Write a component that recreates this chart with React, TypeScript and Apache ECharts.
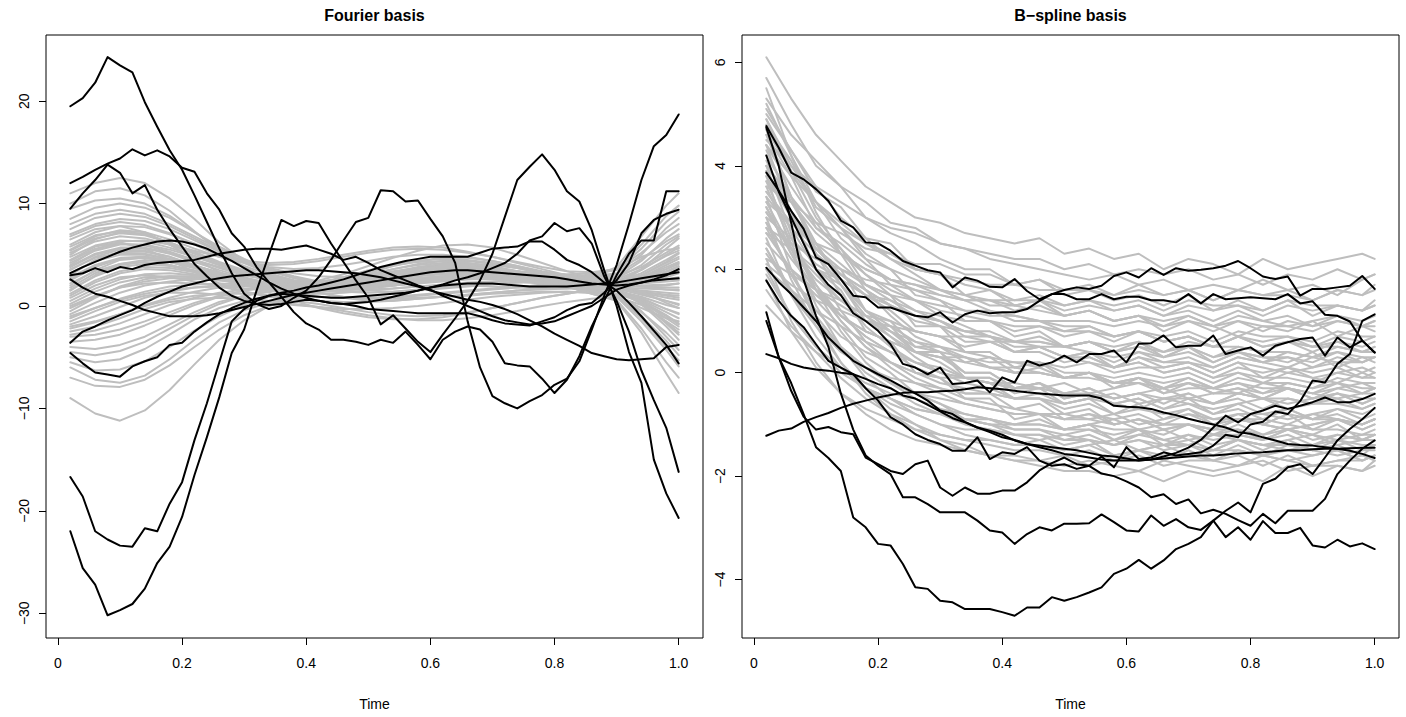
import React, { useEffect, useRef } from "react";
import * as echarts from "echarts";

// ---------- time grids ----------
const timeFine = [0.02,0.04,0.06,0.08,0.1,0.12,0.14,0.16,0.18,0.2,0.22,0.24,0.26,0.28,0.3,0.32,0.34,0.36,0.38,0.4,0.42,0.44,0.46,0.48,0.5,0.52,0.54,0.56,0.58,0.6,0.62,0.64,0.66,0.68,0.7,0.72,0.74,0.76,0.78,0.8,0.82,0.84,0.86,0.88,0.9,0.92,0.94,0.96,0.98,1];
const timeCoarse = [0.02,0.06,0.1,0.14,0.18,0.22,0.26,0.3,0.34,0.38,0.42,0.46,0.5,0.54,0.58,0.62,0.66,0.7,0.74,0.78,0.82,0.86,0.9,0.94,0.98,1];

// ---------- tick values / labels ----------
const xTicks = [0, 0.2, 0.4, 0.6, 0.8, 1.0];
const xTickLabels = ["0", "0.2", "0.4", "0.6", "0.8", "1.0"];
const fourierYTicks = [-30, -20, -10, 0, 10, 20];
const bsplineYTicks = [-4, -2, 0, 2, 4, 6];
const panelTitles = ["Fourier basis", "B\u2212spline basis"];
const xAxisTitle = "Time";

// ---------- Fourier basis: grey curves (timeCoarse) ----------
const fourierGrey = [
  [11.0,12.0,12.5,12.0,10.5,8.5,6.2,4.4,3.0,2.0,1.3,0.8,0.5,0.5,0.7,0.9,1.1,1.3,1.5,1.8,2.2,2.8,3.8,6.8,9.8,11.0],
  [10.0,11.2,11.5,10.8,9.3,7.3,5.4,3.8,2.7,1.9,1.3,0.9,0.7,0.8,1.0,1.2,1.4,1.6,1.8,2.1,2.5,3.0,3.6,6.0,8.8,9.8],
  [9.5,10.3,10.5,10.0,8.8,7.2,5.6,4.2,3.2,2.5,2.0,1.7,1.6,1.7,1.9,2.1,2.3,2.4,2.5,2.6,2.8,3.1,3.5,5.6,8.2,9.2],
  [8.5,9.6,10.0,9.6,8.6,7.2,5.8,4.6,3.6,2.9,2.4,2.1,2.0,2.1,2.3,2.5,2.7,2.8,2.8,2.8,2.8,2.9,3.2,5.0,7.6,8.6],
  [8.0,9.0,9.4,9.0,8.0,6.8,5.6,4.5,3.7,3.2,2.9,2.8,2.9,3.1,3.4,3.6,3.7,3.6,3.4,3.2,3.1,3.2,3.6,5.2,7.2,8.0],
  [7.5,8.6,9.0,8.7,7.8,6.6,5.4,4.3,3.4,2.7,2.3,2.1,2.1,2.3,2.6,2.9,3.1,3.2,3.1,2.9,2.7,2.6,2.8,4.4,6.6,7.5],
  [7.0,8.0,8.5,8.3,7.5,6.4,5.3,4.3,3.5,2.8,2.2,1.8,1.5,1.4,1.5,1.7,1.9,2.1,2.3,2.5,2.6,2.8,3.1,4.6,6.3,7.0],
  [6.8,7.8,8.2,7.9,7.1,6.0,4.9,3.9,3.1,2.5,2.1,1.9,1.9,2.0,2.2,2.4,2.6,2.7,2.7,2.6,2.5,2.5,2.7,4.0,6.0,6.8],
  [6.5,7.5,7.8,7.2,6.0,4.6,3.3,2.2,1.3,0.5,-0.2,-0.7,-1.1,-1.3,-1.3,-1.1,-0.7,-0.2,0.3,0.8,1.2,1.6,2.0,3.6,5.6,6.6],
  [6.0,7.2,7.8,7.7,7.0,6.1,5.1,4.3,3.8,3.6,3.7,4.0,4.4,4.8,5.0,5.0,4.8,4.4,3.9,3.4,3.0,2.8,2.9,3.8,5.2,5.9],
  [5.8,6.9,7.3,7.0,6.2,5.2,4.2,3.3,2.6,2.1,1.8,1.7,1.8,2.0,2.3,2.6,2.8,2.9,2.9,2.8,2.6,2.4,2.4,3.5,5.0,5.7],
  [5.5,6.8,7.4,7.2,6.5,5.6,4.8,4.2,4.0,4.1,4.4,4.8,5.2,5.5,5.6,5.5,5.2,4.8,4.3,3.8,3.4,3.3,3.6,4.8,5.5,5.6],
  [5.4,6.6,7.1,6.9,6.2,5.3,4.3,3.5,2.9,2.5,2.3,2.3,2.5,2.8,3.1,3.3,3.4,3.3,3.1,2.8,2.6,2.5,2.6,3.6,4.9,5.4],
  [5.2,6.3,6.8,6.6,6.0,5.1,4.2,3.4,2.8,2.4,2.2,2.2,2.4,2.7,3.0,3.2,3.3,3.2,3.0,2.8,2.6,2.4,2.4,3.2,4.5,5.2],
  [5.0,6.5,7.2,7.0,6.2,5.2,4.2,3.3,2.6,2.2,2.2,2.5,3.0,3.6,4.1,4.4,4.4,4.1,3.7,3.2,2.8,2.5,2.4,3.0,4.3,5.1],
  [4.8,5.9,6.4,6.3,5.7,4.9,4.0,3.2,2.5,2.0,1.6,1.4,1.3,1.4,1.6,1.8,2.0,2.2,2.3,2.3,2.3,2.2,2.2,3.0,4.2,4.8],
  [4.5,5.8,6.2,5.6,4.5,3.3,2.2,1.4,0.9,0.5,0.2,-0.2,-0.6,-0.9,-1.0,-0.9,-0.6,-0.2,0.3,0.8,1.2,1.6,1.9,2.8,4.0,4.6],
  [4.4,5.6,6.1,5.9,5.3,4.5,3.7,3.0,2.5,2.2,2.1,2.2,2.5,2.9,3.3,3.6,3.7,3.6,3.4,3.1,2.8,2.5,2.3,2.8,3.8,4.3],
  [4.2,5.4,6.0,6.0,5.5,4.8,4.0,3.3,2.8,2.5,2.4,2.5,2.8,3.1,3.4,3.6,3.6,3.5,3.3,3.0,2.7,2.5,2.3,2.7,3.6,4.2],
  [4.0,5.5,6.3,6.4,6.0,5.4,4.8,4.4,4.2,4.3,4.6,5.0,5.4,5.7,5.8,5.7,5.3,4.8,4.2,3.6,3.0,2.6,2.4,2.8,3.6,4.1],
  [3.9,5.1,5.7,5.7,5.2,4.5,3.8,3.1,2.6,2.3,2.2,2.3,2.6,2.9,3.2,3.4,3.5,3.4,3.2,2.9,2.6,2.4,2.2,2.7,3.4,3.9],
  [3.8,5.0,5.6,5.6,5.1,4.3,3.5,2.8,2.2,1.8,1.6,1.6,1.8,2.1,2.4,2.6,2.7,2.7,2.6,2.5,2.4,2.3,2.2,2.6,3.3,3.8],
  [3.6,4.7,5.2,5.1,4.6,3.9,3.2,2.6,2.1,1.8,1.7,1.8,2.0,2.3,2.6,2.8,2.9,2.9,2.8,2.6,2.4,2.2,2.0,2.4,3.1,3.5],
  [3.5,4.8,5.5,5.4,4.8,3.9,3.0,2.2,1.6,1.3,1.2,1.3,1.5,1.7,1.9,2.0,2.0,1.9,1.8,1.7,1.7,1.8,2.0,2.6,3.2,3.5],
  [3.2,4.4,5.0,5.0,4.6,3.9,3.2,2.6,2.1,1.9,1.8,2.0,2.3,2.7,3.0,3.2,3.3,3.2,3.0,2.8,2.5,2.3,2.1,2.3,2.8,3.2],
  [3.0,4.5,5.3,5.3,4.8,4.0,3.2,2.5,2.0,1.8,1.9,2.3,2.8,3.2,3.5,3.6,3.5,3.3,3.0,2.7,2.4,2.2,2.1,2.4,3.0,3.3],
  [2.8,4.0,4.7,4.8,4.5,3.9,3.3,2.7,2.3,2.0,1.9,1.9,2.0,2.2,2.4,2.5,2.6,2.6,2.5,2.4,2.3,2.2,2.1,2.3,2.6,2.8],
  [2.6,3.9,4.6,4.7,4.3,3.7,3.0,2.4,2.0,1.8,1.9,2.2,2.7,3.2,3.7,4.0,4.1,4.0,3.7,3.2,2.8,2.4,2.1,2.2,2.4,2.5],
  [2.5,3.8,4.6,4.8,4.5,3.9,3.2,2.6,2.2,2.1,2.3,2.8,3.4,4.0,4.4,4.6,4.5,4.2,3.8,3.3,2.9,2.6,2.4,2.5,2.6,2.6],
  [2.2,3.4,4.1,4.3,4.0,3.5,2.9,2.4,2.0,1.8,1.8,2.0,2.3,2.6,2.9,3.1,3.2,3.1,2.9,2.6,2.3,2.1,1.9,2.0,2.1,2.2],
  [2.0,3.5,4.5,4.7,4.3,3.7,3.0,2.4,2.0,1.9,2.1,2.6,3.2,3.9,4.4,4.7,4.7,4.4,3.9,3.3,2.7,2.3,2.0,1.9,2.0,2.2],
  [1.8,3.2,4.1,4.5,4.3,3.8,3.2,2.6,2.1,1.7,1.5,1.5,1.7,2.0,2.3,2.6,2.8,2.9,2.9,2.8,2.6,2.3,2.0,1.9,1.8,1.8],
  [1.6,2.9,3.8,4.1,3.9,3.4,2.8,2.2,1.8,1.5,1.4,1.5,1.7,2.0,2.3,2.6,2.8,2.9,2.8,2.6,2.3,2.0,1.8,1.7,1.6,1.6],
  [1.5,3.0,4.0,4.3,4.0,3.4,2.7,2.0,1.5,1.1,0.9,0.8,0.8,0.9,1.1,1.3,1.5,1.7,1.9,2.0,2.1,2.1,2.1,1.9,1.6,1.5],
  [1.2,2.5,3.4,3.8,3.7,3.3,2.8,2.3,1.9,1.6,1.5,1.6,1.8,2.1,2.4,2.6,2.7,2.7,2.5,2.3,2.1,1.9,1.7,1.5,1.3,1.2],
  [1.0,2.3,3.2,3.6,3.5,3.1,2.6,2.1,1.7,1.5,1.5,1.7,2.0,2.4,2.7,2.9,3.0,2.9,2.7,2.4,2.1,1.9,1.7,1.4,1.1,1.0],
  [0.8,2.0,2.8,3.0,2.8,2.4,1.9,1.4,1.0,0.7,0.5,0.4,0.4,0.5,0.7,0.9,1.1,1.3,1.5,1.6,1.7,1.8,1.8,1.4,1.0,0.8],
  [0.5,1.7,2.6,3.1,3.2,3.0,2.6,2.2,1.9,1.7,1.7,1.9,2.3,2.7,3.1,3.4,3.5,3.4,3.1,2.7,2.3,2.0,1.7,1.3,0.8,0.6],
  [0.2,1.4,2.3,2.8,2.9,2.8,2.5,2.2,1.9,1.8,1.8,2.0,2.4,2.9,3.3,3.6,3.7,3.6,3.3,2.9,2.4,2.0,1.7,1.1,0.5,0.2],
  [0.0,1.0,1.8,2.2,2.3,2.2,2.0,1.7,1.5,1.4,1.5,1.8,2.3,2.9,3.4,3.8,3.9,3.8,3.4,2.9,2.4,2.0,1.7,1.2,0.5,0.1],
  [-0.2,0.9,1.8,2.4,2.7,2.7,2.5,2.2,1.9,1.7,1.6,1.7,1.9,2.2,2.5,2.7,2.8,2.7,2.5,2.2,1.9,1.7,1.5,0.9,0.1,-0.2],
  [-0.5,0.8,1.9,2.6,2.9,2.9,2.7,2.4,2.2,2.2,2.5,3.1,3.9,4.7,5.4,5.9,6.0,5.7,5.0,4.2,3.4,2.7,2.2,1.4,0.3,-0.2],
  [-0.8,0.3,1.3,2.0,2.4,2.6,2.6,2.4,2.2,2.1,2.1,2.3,2.6,3.0,3.4,3.7,3.8,3.7,3.3,2.8,2.3,1.9,1.6,0.7,-0.3,-0.7],
  [-1.0,-0.2,0.6,1.2,1.6,1.8,1.9,1.9,1.9,2.0,2.2,2.6,3.1,3.6,4.0,4.2,4.2,3.9,3.4,2.8,2.2,1.8,1.5,0.8,-0.3,-0.8],
  [-1.2,-0.2,0.7,1.4,1.9,2.1,2.2,2.1,2.0,1.9,1.9,2.0,2.2,2.4,2.6,2.7,2.7,2.6,2.4,2.2,2.0,1.8,1.6,0.6,-0.6,-1.2],
  [-1.5,-0.5,0.4,1.0,1.3,1.3,1.1,0.8,0.4,0.1,-0.1,-0.3,-0.3,-0.2,0.0,0.3,0.6,0.9,1.1,1.3,1.4,1.3,1.0,-0.2,-1.2,-1.5],
  [-1.8,-1.0,-0.1,0.8,1.4,1.8,2.0,2.0,1.9,1.8,1.8,1.9,2.1,2.3,2.5,2.7,2.8,2.8,2.6,2.3,2.0,1.8,1.6,0.5,-0.9,-1.7],
  [-2.0,-1.5,-0.8,0.0,0.6,1.0,1.2,1.2,1.1,1.0,0.9,0.8,0.7,0.7,0.8,0.9,1.0,1.2,1.3,1.4,1.4,1.3,1.2,0.4,-1.0,-1.8],
  [-2.2,-1.6,-0.8,0.1,0.8,1.4,1.8,2.0,2.1,2.1,2.1,2.2,2.3,2.5,2.7,2.8,2.8,2.7,2.5,2.2,1.9,1.7,1.5,0.4,-1.2,-2.0],
  [-2.5,-2.0,-1.2,-0.3,0.4,0.7,0.8,0.7,0.5,0.2,-0.1,-0.5,-0.9,-1.2,-1.4,-1.4,-1.2,-0.9,-0.5,0.0,0.4,0.7,0.9,0.1,-1.5,-2.3],
  [-2.8,-2.4,-1.7,-0.8,0.1,0.8,1.3,1.6,1.8,1.9,2.0,2.1,2.3,2.5,2.7,2.9,3.0,2.9,2.7,2.4,2.1,1.8,1.5,0.3,-1.6,-2.6],
  [-3.0,-2.8,-2.3,-1.5,-0.6,0.3,1.0,1.5,1.9,2.2,2.4,2.6,2.8,3.0,3.2,3.3,3.3,3.1,2.8,2.5,2.2,1.9,1.6,0.4,-1.7,-2.8],
  [-3.5,-3.3,-2.8,-1.9,-0.9,0.1,0.9,1.5,1.9,2.2,2.4,2.6,2.8,3.0,3.1,3.2,3.2,3.0,2.7,2.4,2.1,1.8,1.5,0.2,-2.0,-3.3],
  [-4.0,-4.2,-3.8,-3.0,-1.8,-0.6,0.4,1.0,1.4,1.7,2.0,2.3,2.6,2.9,3.1,3.2,3.1,2.9,2.6,2.2,1.8,1.4,1.0,-0.6,-2.6,-3.8],
  [-4.5,-4.8,-4.4,-3.5,-2.2,-0.9,0.2,1.0,1.6,2.0,2.3,2.6,2.9,3.1,3.3,3.4,3.3,3.1,2.8,2.4,2.0,1.6,1.2,-0.5,-3.0,-4.3],
  [-5.0,-5.5,-5.2,-4.2,-2.8,-1.3,-0.2,0.5,0.9,1.2,1.5,1.9,2.3,2.7,3.0,3.2,3.2,3.0,2.7,2.3,1.9,1.5,1.1,-1.0,-3.4,-4.8],
  [-5.5,-6.3,-6.2,-5.4,-4.0,-2.4,-1.0,0.1,0.9,1.5,2.0,2.5,3.0,3.4,3.7,3.8,3.7,3.4,3.0,2.5,2.0,1.5,1.0,-1.2,-4.0,-5.3],
  [-6.0,-7.2,-7.5,-6.8,-5.2,-3.3,-1.6,-0.4,0.3,0.9,1.5,2.1,2.7,3.3,3.8,4.1,4.1,3.8,3.3,2.7,2.1,1.5,0.9,-1.5,-4.3,-5.9],
  [-7.0,-7.8,-7.9,-7.2,-5.8,-4.0,-2.3,-0.9,0.0,0.7,1.3,1.9,2.5,3.1,3.6,3.9,3.9,3.6,3.1,2.5,1.9,1.2,0.6,-2.2,-5.5,-7.0],
  [-9.0,-10.5,-11.2,-10.2,-8.2,-5.7,-3.3,-1.4,0.0,1.1,2.0,2.8,3.5,4.0,4.3,4.4,4.2,3.8,3.2,2.6,1.9,1.2,0.5,-2.6,-6.6,-8.5],
];

// ---------- Fourier basis: highlighted black curves (timeFine) ----------
const fourierBlack = [
  [19.5,20.3,21.8,24.3,23.5,22.8,19.9,17.5,15.2,13.3,10.8,8.2,5.6,3.2,1.2,0.2,-0.3,0.0,0.8,1.5,2.8,4.5,6.4,8.2,8.6,11.3,11.2,10.2,10.3,8.5,6.8,4.2,-1.5,-6.0,-8.8,-9.5,-10.0,-9.3,-8.7,-7.7,-7.1,-5.4,-2.3,1.0,4.0,8.0,12.3,15.6,16.7,18.7],
  [12.0,12.6,13.3,13.9,14.4,15.3,14.7,15.2,14.6,13.5,13.1,11.0,9.4,7.1,5.8,3.8,2.3,0.9,-0.6,-1.7,-2.3,-3.3,-3.3,-3.5,-3.8,-3.3,-3.6,-2.5,-3.8,-5.2,-3.3,-2.5,-2.0,-2.3,-3.5,-5.6,-5.8,-5.9,-7.1,-8.5,-7.2,-4.9,-2.0,0.5,3.0,5.1,6.4,6.4,11.2,11.2],
  [9.5,11.0,12.3,13.8,13.0,11.0,11.8,9.4,7.5,5.8,4.1,2.9,1.8,1.0,0.5,0.2,0.1,0.2,0.4,0.6,0.5,0.3,0.2,0.0,-0.3,-0.4,-0.5,-0.6,-0.7,-0.7,-0.7,-0.7,-0.7,-1.0,-1.4,-1.7,-1.8,-1.9,-1.5,-1.1,-0.4,0.1,0.3,1.3,2.5,4.2,7.1,8.4,9.0,9.4],
  [3.2,3.8,4.3,4.8,5.3,5.7,6.0,6.3,6.4,6.3,6.0,5.6,5.0,4.4,3.7,3.0,2.3,1.7,1.2,0.8,0.5,0.3,0.2,0.3,0.4,0.6,0.9,1.2,1.5,1.8,2.0,2.1,2.2,2.2,2.2,2.1,2.0,1.9,1.9,1.9,1.9,2.0,2.1,2.2,2.3,2.5,2.7,2.9,3.1,3.3],
  [3.0,3.2,3.7,3.3,3.8,3.6,4.0,4.2,4.3,4.4,4.5,4.8,5.1,5.3,5.5,5.6,5.6,5.5,5.7,5.9,5.5,5.1,4.5,4.8,4.2,3.5,3.0,2.5,2.0,1.6,1.0,0.5,0.0,-0.5,-1.0,-1.4,-1.6,-1.8,-1.7,-1.5,-1.0,-0.5,0.0,0.8,1.6,2.0,2.3,2.5,2.6,2.7],
  [2.6,1.8,1.2,0.9,0.5,0.1,-0.4,-0.7,-1.0,-1.0,-1.0,-0.9,-0.7,-0.4,-0.1,0.2,0.5,0.8,1.1,1.3,1.5,1.7,1.9,2.1,2.3,2.5,2.7,2.9,3.1,3.3,3.4,3.5,3.5,3.4,3.3,3.2,3.1,3.0,2.9,2.8,2.6,2.4,2.2,2.1,2.0,2.1,2.3,2.6,3.0,3.6],
  [-3.6,-2.5,-2.0,-1.4,-0.9,-0.4,0.3,0.9,1.4,1.9,2.2,2.5,2.7,2.9,3.0,3.1,3.2,3.3,3.4,3.5,3.5,3.4,3.3,3.2,3.0,2.8,2.5,2.2,1.9,1.5,1.2,0.9,0.6,0.4,0.1,-0.3,-0.8,-1.4,-2.0,-2.7,-3.3,-3.9,-4.6,-4.9,-5.2,-5.3,-5.2,-5.1,-4.0,-3.8],
  [-4.6,-5.6,-6.5,-6.7,-6.9,-5.9,-5.4,-5.0,-3.8,-3.6,-2.5,-1.6,-0.8,-0.2,0.3,0.7,1.0,1.3,1.5,1.8,2.0,2.3,2.6,3.0,3.4,3.8,4.1,4.4,4.6,4.8,4.8,4.8,4.8,5.2,5.6,5.7,5.8,6.3,6.3,5.5,4.5,4.0,3.3,2.3,1.5,0.3,-1.0,-2.4,-3.8,-5.6],
  [-16.7,-18.6,-22.0,-22.8,-23.4,-23.5,-21.7,-22.0,-19.3,-17.2,-13.1,-9.5,-5.5,-1.5,-0.3,0.5,1.0,1.2,1.1,1.0,0.9,0.8,0.8,0.9,1.0,1.1,1.2,1.3,1.5,1.8,2.1,2.5,2.8,3.2,3.7,4.2,5.1,6.4,6.8,8.1,7.3,7.6,6.1,2.9,0.5,-2.5,-6.3,-9.2,-11.9,-16.2],
  [-22.0,-25.6,-27.2,-30.2,-29.7,-29.1,-27.6,-25.1,-23.5,-20.6,-16.5,-12.8,-8.9,-4.6,-2.3,1.5,5.0,8.4,7.8,8.3,8.1,6.1,4.3,2.5,0.8,-1.8,-0.9,-2.2,-3.5,-4.5,-2.8,-1.2,0.5,2.5,5.1,8.7,12.3,13.6,14.8,13.3,11.2,10.2,7.4,3.5,0.0,-4.5,-7.5,-15.0,-18.3,-20.7],
];

// ---------- B-spline basis: grey curves (timeCoarse) ----------
const bsplineGrey = [
  [6.1,5.3,4.6,4.1,3.6,3.3,3.0,2.9,2.7,2.6,2.5,2.6,2.3,2.4,2.2,2.3,2.0,2.2,2.1,1.9,2.2,2.0,2.1,2.2,2.3,2.2],
  [5.7,4.8,4.0,3.6,3.0,2.7,2.5,2.2,2.0,2.0,1.7,1.8,1.5,1.6,1.4,1.5,1.3,1.5,1.2,1.4,1.2,1.4,1.1,1.3,1.2,1.3],
  [5.5,4.2,3.1,2.3,1.6,1.1,0.7,0.5,0.3,0.1,0.0,0.0,-0.1,-0.1,-0.2,-0.2,-0.3,-0.2,-0.3,-0.2,-0.3,-0.3,-0.4,-0.2,-0.3,-0.3],
  [5.3,4.6,4.1,3.6,3.3,2.9,2.8,2.5,2.4,2.2,2.1,2.0,1.9,1.8,1.9,1.7,1.8,1.6,1.7,1.6,1.8,1.6,1.7,1.5,1.8,1.9],
  [5.2,4.2,3.3,2.8,2.3,2.0,1.8,1.6,1.5,1.3,1.3,1.2,1.1,1.2,1.0,1.1,1.0,1.1,0.9,1.1,1.0,0.9,1.0,1.1,0.9,1.0],
  [5.1,4.3,3.6,3.0,2.6,2.2,1.9,1.6,1.4,1.2,1.1,1.0,0.9,0.9,0.7,0.8,0.6,0.7,0.5,0.7,0.5,0.6,0.5,0.6,0.4,0.5],
  [5.0,4.3,3.5,3.2,2.6,2.5,2.0,1.9,1.5,1.6,1.3,1.4,1.1,1.2,1.0,1.1,0.8,1.0,0.9,0.7,0.9,0.8,1.0,0.7,0.9,0.8],
  [4.9,4.0,3.3,2.6,2.2,1.7,1.4,1.1,0.9,0.7,0.5,0.5,0.3,0.3,0.1,0.2,0.0,0.1,-0.1,0.0,-0.2,0.0,-0.1,-0.2,0.0,-0.1],
  [4.9,3.9,3.0,2.4,1.9,1.5,1.2,1.0,0.8,0.7,0.6,0.5,0.5,0.4,0.3,0.4,0.3,0.4,0.2,0.4,0.3,0.3,0.2,0.4,0.3,0.3],
  [4.8,4.1,3.2,2.8,2.2,2.0,1.5,1.4,1.0,1.0,0.7,0.8,0.5,0.6,0.4,0.6,0.3,0.5,0.2,0.4,0.3,0.2,0.4,0.1,0.3,0.2],
  [4.7,3.9,3.3,2.8,2.5,2.2,2.0,1.9,1.8,1.7,1.7,1.6,1.6,1.6,1.5,1.6,1.5,1.6,1.4,1.6,1.5,1.5,1.4,1.6,1.5,1.6],
  [4.7,3.4,2.3,1.5,0.9,0.5,0.2,0.0,-0.1,-0.2,-0.3,-0.3,-0.4,-0.3,-0.5,-0.4,-0.3,-0.5,-0.4,-0.4,-0.5,-0.3,-0.4,-0.5,-0.4,-0.4],
  [4.6,3.8,2.8,2.4,1.7,1.5,0.9,0.9,0.4,0.4,0.1,0.2,-0.1,0.0,-0.3,-0.1,-0.4,-0.2,-0.4,-0.3,-0.5,-0.3,-0.5,-0.4,-0.6,-0.5],
  [4.6,3.4,2.5,1.7,1.1,0.7,0.3,0.0,-0.2,-0.3,-0.5,-0.5,-0.7,-0.6,-0.8,-0.7,-0.8,-0.7,-0.9,-0.8,-0.8,-0.9,-0.8,-0.7,-0.9,-0.8],
  [4.5,4.0,3.6,3.3,3.0,2.8,2.7,2.5,2.4,2.3,2.2,2.2,2.0,2.1,1.9,2.0,1.9,2.0,1.8,1.9,1.7,1.9,1.8,2.0,1.8,1.9],
  [4.4,3.8,3.3,2.9,2.5,2.3,2.0,1.9,1.7,1.6,1.4,1.5,1.3,1.4,1.2,1.3,1.1,1.2,1.0,1.2,1.0,1.1,0.9,1.1,1.0,1.1],
  [4.4,3.6,2.9,2.3,1.9,1.6,1.4,1.2,1.1,1.0,0.9,0.9,0.8,0.8,0.7,0.8,0.7,0.8,0.6,0.8,0.7,0.7,0.6,0.8,0.7,0.7],
  [4.4,3.1,2.0,1.2,0.6,0.2,-0.1,-0.3,-0.5,-0.6,-0.7,-0.8,-0.8,-0.9,-0.8,-1.0,-0.9,-0.8,-1.0,-0.9,-0.9,-1.0,-0.8,-0.9,-1.0,-0.9],
  [4.3,3.3,2.5,1.8,1.2,0.8,0.4,0.2,-0.1,-0.2,-0.5,-0.5,-0.8,-0.7,-1.0,-0.9,-1.1,-1.0,-1.2,-1.1,-1.3,-1.1,-1.3,-1.2,-1.3,-1.2],
  [4.2,3.4,2.4,2.0,1.2,1.0,0.5,0.4,-0.1,-0.1,-0.4,-0.3,-0.6,-0.5,-0.8,-0.6,-0.9,-0.7,-1.0,-0.8,-1.0,-0.8,-1.1,-0.9,-1.0,-0.9],
  [4.1,3.1,2.3,1.7,1.2,0.9,0.6,0.4,0.3,0.1,0.1,0.0,-0.1,0.0,-0.2,-0.1,-0.2,-0.1,-0.3,-0.1,-0.2,-0.2,-0.3,-0.1,-0.2,-0.2],
  [4.0,3.4,2.8,2.5,2.1,1.8,1.6,1.4,1.2,1.2,1.0,1.0,0.8,0.9,0.7,0.8,0.6,0.7,0.5,0.7,0.5,0.6,0.4,0.6,0.5,0.6],
  [4.0,3.3,2.7,2.3,2.0,1.8,1.7,1.6,1.5,1.4,1.4,1.4,1.3,1.4,1.3,1.4,1.2,1.4,1.3,1.3,1.2,1.4,1.3,1.3,1.2,1.3],
  [4.0,2.7,1.6,0.8,0.2,-0.2,-0.5,-0.7,-0.9,-1.0,-1.1,-1.1,-1.2,-1.1,-1.3,-1.2,-1.1,-1.3,-1.2,-1.2,-1.3,-1.1,-1.2,-1.3,-1.2,-1.2],
  [3.9,3.0,2.0,1.6,0.8,0.6,0.0,-0.1,-0.5,-0.5,-0.9,-0.8,-1.1,-1.0,-1.3,-1.1,-1.4,-1.2,-1.4,-1.3,-1.5,-1.3,-1.5,-1.4,-1.6,-1.4],
  [3.9,3.1,2.4,1.9,1.6,1.3,1.1,0.9,0.8,0.7,0.6,0.6,0.5,0.6,0.4,0.5,0.4,0.5,0.3,0.5,0.4,0.4,0.3,0.5,0.4,0.4],
  [3.8,3.0,2.4,1.9,1.5,1.2,0.8,0.7,0.4,0.4,0.1,0.2,0.0,0.0,-0.2,-0.1,-0.3,-0.2,-0.4,-0.3,-0.4,-0.3,-0.5,-0.3,-0.4,-0.3],
  [3.8,2.4,1.3,0.5,-0.1,-0.5,-0.8,-1.0,-1.2,-1.3,-1.4,-1.4,-1.5,-1.4,-1.6,-1.5,-1.4,-1.6,-1.5,-1.5,-1.6,-1.4,-1.5,-1.6,-1.5,-1.5],
  [3.7,2.6,1.7,1.0,0.5,0.1,-0.2,-0.4,-0.6,-0.7,-0.8,-0.8,-0.9,-0.9,-1.0,-0.9,-1.0,-1.0,-1.1,-0.9,-1.0,-1.1,-1.0,-0.9,-1.1,-1.0],
  [3.7,3.1,2.5,2.1,1.7,1.4,1.1,1.0,0.7,0.7,0.4,0.5,0.3,0.4,0.1,0.3,0.1,0.2,0.0,0.2,-0.1,0.1,0.0,0.1,-0.1,0.0],
  [3.6,3.3,2.9,2.7,2.4,2.3,2.1,2.1,1.9,1.9,1.7,1.8,1.6,1.7,1.5,1.7,1.5,1.6,1.4,1.6,1.5,1.6,1.4,1.6,1.5,1.7],
  [3.6,2.5,1.6,1.0,0.5,0.2,0.0,-0.2,-0.3,-0.4,-0.5,-0.5,-0.6,-0.5,-0.6,-0.7,-0.5,-0.6,-0.7,-0.6,-0.5,-0.7,-0.6,-0.6,-0.7,-0.6],
  [3.5,2.8,2.0,1.7,1.0,0.9,0.4,0.4,0.0,0.0,-0.3,-0.2,-0.5,-0.4,-0.6,-0.5,-0.7,-0.5,-0.8,-0.6,-0.8,-0.7,-0.9,-0.7,-0.8,-0.7],
  [3.5,2.9,2.4,2.0,1.7,1.5,1.4,1.3,1.2,1.1,1.1,1.0,1.0,1.0,0.9,1.0,0.9,1.0,0.8,1.0,0.9,0.9,0.8,1.0,0.9,0.9],
  [3.4,2.0,1.0,0.2,-0.4,-0.8,-1.1,-1.3,-1.5,-1.6,-1.7,-1.7,-1.8,-1.7,-1.8,-1.9,-1.7,-1.8,-1.9,-1.8,-1.7,-1.9,-1.8,-1.8,-1.9,-1.7],
  [3.4,2.8,2.3,1.9,1.6,1.3,1.0,0.9,0.6,0.6,0.4,0.4,0.2,0.3,0.1,0.2,0.0,0.1,-0.1,0.1,0.0,0.1,-0.1,0.0,0.1,0.0],
  [3.3,2.9,2.5,2.3,2.0,1.8,1.7,1.5,1.4,1.4,1.2,1.3,1.1,1.2,1.0,1.1,0.9,1.1,0.9,1.0,0.8,1.0,0.9,1.0,0.9,1.0],
  [3.3,2.4,1.7,1.1,0.7,0.4,0.2,0.0,-0.1,-0.2,-0.3,-0.3,-0.4,-0.4,-0.5,-0.4,-0.5,-0.4,-0.6,-0.4,-0.5,-0.5,-0.6,-0.4,-0.5,-0.5],
  [3.2,2.3,1.4,0.9,0.3,0.0,-0.4,-0.6,-0.9,-1.0,-1.2,-1.2,-1.4,-1.3,-1.6,-1.5,-1.7,-1.5,-1.7,-1.6,-1.8,-1.6,-1.8,-1.7,-1.7,-1.6],
  [3.2,2.3,1.6,1.1,0.8,0.6,0.4,0.3,0.3,0.2,0.2,0.1,0.3,0.2,0.1,0.3,0.2,0.2,0.1,0.3,0.2,0.1,0.3,0.2,0.2,0.3],
  [3.1,2.4,1.8,1.4,1.1,0.8,0.6,0.5,0.4,0.3,0.2,0.2,0.1,0.2,0.0,0.1,0.1,0.2,0.0,0.2,0.1,0.0,0.1,0.2,0.0,0.1],
  [3.1,2.4,1.9,1.4,1.0,0.7,0.4,0.3,0.0,0.0,-0.3,-0.2,-0.5,-0.4,-0.6,-0.5,-0.7,-0.6,-0.8,-0.7,-0.9,-0.7,-0.9,-0.8,-1.0,-0.9],
  [3.0,2.6,2.1,1.8,1.5,1.3,1.1,1.0,0.8,0.8,0.6,0.7,0.5,0.6,0.4,0.5,0.3,0.5,0.3,0.4,0.2,0.4,0.3,0.4,0.2,0.3],
  [3.0,1.8,0.9,0.2,-0.3,-0.7,-1.0,-1.2,-1.3,-1.4,-1.5,-1.5,-1.6,-1.5,-1.7,-1.5,-1.6,-1.6,-1.7,-1.5,-1.6,-1.7,-1.6,-1.5,-1.7,-1.6],
  [2.9,2.2,1.6,1.1,0.7,0.4,0.1,-0.1,-0.4,-0.4,-0.7,-0.6,-0.9,-0.8,-1.0,-0.9,-1.1,-1.0,-1.2,-1.0,-1.2,-1.1,-1.2,-1.0,-1.3,-1.2],
  [2.9,1.9,1.1,0.5,0.0,-0.3,-0.6,-0.8,-1.0,-1.1,-1.2,-1.2,-1.3,-1.3,-1.4,-1.3,-1.4,-1.3,-1.5,-1.3,-1.4,-1.4,-1.5,-1.3,-1.4,-1.4],
  [2.8,2.5,2.2,2.0,1.8,1.7,1.6,1.5,1.4,1.4,1.3,1.4,1.2,1.3,1.2,1.3,1.1,1.3,1.2,1.3,1.1,1.3,1.2,1.3,1.2,1.4],
  [2.8,1.9,1.2,0.7,0.4,0.2,0.0,-0.1,-0.1,-0.2,-0.2,-0.3,-0.2,-0.4,-0.3,-0.2,-0.4,-0.3,-0.3,-0.4,-0.2,-0.3,-0.4,-0.3,-0.2,-0.3],
  [2.7,2.4,2.0,1.8,1.5,1.4,1.2,1.1,1.0,1.0,0.8,0.9,0.7,0.8,0.6,0.8,0.6,0.7,0.5,0.7,0.6,0.7,0.5,0.7,0.6,0.7],
  [2.7,2.0,1.5,1.1,0.8,0.6,0.4,0.3,0.2,0.1,0.0,0.0,-0.1,0.0,-0.1,0.0,-0.1,0.0,-0.2,0.0,-0.1,-0.1,-0.2,0.0,-0.1,-0.1],
  [2.6,1.5,0.7,0.1,-0.3,-0.6,-0.8,-1.0,-1.1,-1.1,-1.2,-1.3,-1.2,-1.3,-1.4,-1.2,-1.3,-1.4,-1.2,-1.3,-1.4,-1.3,-1.2,-1.4,-1.3,-1.3],
  [2.5,2.0,1.6,1.3,1.0,0.8,0.5,0.5,0.2,0.3,0.0,0.1,-0.1,0.0,-0.2,-0.1,-0.3,-0.1,-0.3,-0.2,-0.4,-0.2,-0.3,-0.2,-0.4,-0.3],
  [2.4,1.6,1.0,0.5,0.1,-0.2,-0.4,-0.5,-0.6,-0.7,-0.8,-0.8,-0.9,-0.8,-0.9,-0.8,-1.0,-0.8,-0.9,-0.9,-1.0,-0.8,-0.9,-0.9,-1.0,-0.9],
  [2.4,1.5,0.9,0.4,0.1,-0.1,-0.2,-0.3,-0.4,-0.4,-0.5,-0.4,-0.6,-0.5,-0.4,-0.6,-0.5,-0.5,-0.6,-0.4,-0.5,-0.6,-0.5,-0.4,-0.6,-0.5],
  [2.3,1.6,1.0,0.5,0.1,-0.2,-0.4,-0.6,-0.8,-0.9,-1.1,-1.1,-1.3,-1.2,-1.4,-1.3,-1.5,-1.4,-1.6,-1.4,-1.6,-1.5,-1.6,-1.5,-1.7,-1.6],
  [2.2,1.9,1.6,1.4,1.1,1.0,0.8,0.7,0.5,0.6,0.4,0.5,0.3,0.4,0.2,0.4,0.2,0.3,0.1,0.3,0.2,0.3,0.1,0.3,0.2,0.3],
  [2.2,1.0,0.2,-0.4,-0.8,-1.1,-1.3,-1.4,-1.5,-1.6,-1.6,-1.7,-1.6,-1.8,-1.7,-1.6,-1.8,-1.7,-1.7,-1.8,-1.6,-1.7,-1.8,-1.7,-1.6,-1.7],
  [2.1,1.7,1.4,1.2,1.0,0.9,0.8,0.7,0.7,0.6,0.6,0.6,0.5,0.6,0.5,0.6,0.4,0.6,0.5,0.5,0.4,0.6,0.5,0.5,0.4,0.5],
  [2.0,1.6,1.2,0.9,0.6,0.4,0.2,0.1,-0.1,-0.1,-0.3,-0.2,-0.4,-0.3,-0.5,-0.4,-0.6,-0.4,-0.6,-0.5,-0.7,-0.5,-0.6,-0.5,-0.7,-0.6],
  [2.0,1.1,0.5,0.0,-0.3,-0.5,-0.7,-0.8,-0.9,-0.9,-1.0,-0.9,-1.1,-1.0,-0.9,-1.1,-1.0,-1.0,-1.1,-0.9,-1.0,-1.1,-1.0,-0.9,-1.1,-1.0],
  [1.9,1.1,0.5,0.1,-0.3,-0.5,-0.7,-0.8,-0.9,-1.0,-1.0,-1.0,-1.1,-1.0,-1.1,-1.1,-1.2,-1.0,-1.1,-1.1,-1.2,-1.0,-1.1,-1.1,-1.2,-1.1],
  [1.8,0.8,0.1,-0.4,-0.7,-0.9,-1.1,-1.2,-1.3,-1.3,-1.4,-1.3,-1.5,-1.4,-1.3,-1.5,-1.4,-1.4,-1.5,-1.3,-1.4,-1.5,-1.4,-1.3,-1.5,-1.4],
  [1.6,0.9,0.4,-0.1,-0.5,-0.8,-1.0,-1.3,-1.4,-1.6,-1.7,-1.8,-1.9,-1.9,-2.0,-1.9,-2.1,-1.9,-2.0,-1.9,-2.1,-1.8,-2.0,-1.8,-1.9,-1.8],
  [1.3,0.8,0.4,0.1,-0.2,-0.4,-0.5,-0.7,-0.8,-0.9,-1.0,-1.0,-1.1,-1.1,-1.2,-1.1,-1.3,-1.2,-1.3,-1.2,-1.3,-1.2,-1.4,-1.2,-1.3,-1.2],
];

// ---------- B-spline basis: highlighted black curves (timeFine) ----------
const bsplineBlack = [
  [4.77,4.35,3.87,3.74,3.55,3.32,2.94,2.81,2.52,2.50,2.36,2.16,2.07,1.98,1.94,1.65,1.84,1.78,1.66,1.65,1.81,1.58,1.42,1.52,1.52,1.42,1.42,1.52,1.42,1.47,1.47,1.40,1.40,1.36,1.52,1.34,1.52,1.42,1.44,1.46,1.44,1.42,1.52,1.34,1.38,1.12,1.10,0.99,0.62,0.39],
  [3.87,3.52,3.13,2.78,2.23,2.10,1.81,1.49,1.46,1.26,1.26,1.18,1.10,1.07,1.17,0.97,1.13,1.20,1.15,1.17,1.17,1.23,1.39,1.52,1.60,1.65,1.62,1.68,1.87,1.94,1.84,2.02,1.89,2.02,1.97,1.99,2.02,2.07,2.16,2.02,1.86,1.81,1.86,1.49,1.62,1.62,1.65,1.68,1.87,1.62],
  [4.74,4.0,2.9,1.8,1.1,0.5,-0.4,-1.1,-1.6,-1.8,-1.96,-2.41,-2.41,-2.54,-2.70,-2.70,-2.70,-2.86,-3.05,-3.09,-3.31,-3.12,-2.99,-3.05,-2.92,-2.92,-2.91,-2.74,-2.89,-3.05,-3.07,-2.76,-2.96,-2.83,-2.99,-3.04,-2.86,-3.18,-2.99,-3.23,-2.87,-3.10,-3.10,-3.00,-3.34,-3.38,-3.23,-3.36,-3.30,-3.41],
  [4.2,3.5,3.0,2.5,2.0,1.7,1.5,1.15,1.0,0.81,0.55,0.17,0.1,-0.03,0.10,-0.22,-0.2,-0.15,-0.38,-0.09,-0.19,0.23,0.14,0.2,0.33,0.2,0.36,0.36,0.43,0.2,0.56,0.57,0.72,0.49,0.52,0.52,0.72,0.36,0.43,0.49,0.33,0.52,0.59,0.65,0.68,0.33,0.68,0.49,0.62,0.39],
  [2.03,1.75,1.52,1.26,1.0,0.68,0.45,0.23,0.1,-0.03,-0.15,-0.28,-0.4,-0.54,-0.73,-0.8,-0.95,-1.06,-1.15,-1.25,-1.3,-1.38,-1.44,-1.5,-1.57,-1.6,-1.64,-1.68,-1.70,-1.70,-1.70,-1.68,-1.66,-1.64,-1.62,-1.60,-1.60,-1.58,-1.56,-1.55,-1.54,-1.52,-1.50,-1.50,-1.48,-1.47,-1.47,-1.46,-1.45,-1.45],
  [1.78,1.39,1.1,0.88,0.55,0.23,0.1,-0.03,-0.3,-0.54,-0.86,-1.0,-1.19,-1.3,-1.38,-1.51,-1.51,-1.25,-1.67,-1.54,-1.57,-1.44,-1.70,-1.80,-1.77,-1.86,-1.80,-1.95,-2.0,-2.1,-2.22,-2.41,-2.35,-2.54,-2.45,-2.72,-2.65,-2.73,-2.85,-2.96,-2.73,-2.91,-2.67,-2.67,-2.67,-2.44,-1.96,-1.70,-1.47,-1.31],
  [1.17,0.3,-0.2,-0.8,-1.44,-1.65,-1.9,-2.8,-2.99,-3.31,-3.34,-3.70,-4.15,-4.18,-4.41,-4.44,-4.57,-4.57,-4.57,-4.63,-4.70,-4.54,-4.54,-4.34,-4.41,-4.34,-4.25,-4.15,-3.89,-3.79,-3.62,-3.79,-3.63,-3.41,-3.31,-3.18,-2.86,-2.67,-2.51,-2.70,-2.15,-2.05,-1.83,-1.77,-1.96,-1.64,-1.31,-1.09,-0.90,-0.68],
  [1.0,0.3,-0.35,-0.85,-1.1,-1.05,-1.15,-1.19,-1.64,-1.77,-1.9,-1.96,-1.77,-1.70,-2.22,-2.38,-2.22,-2.34,-2.34,-2.28,-2.28,-2.12,-1.89,-1.75,-1.64,-1.77,-1.80,-1.62,-1.83,-1.44,-1.67,-1.64,-1.54,-1.60,-1.57,-1.54,-1.41,-1.2,-1.25,-1.0,-0.95,-0.75,-0.8,-0.55,-0.15,-0.19,0.17,0.36,1.0,1.13],
  [0.36,0.28,0.17,0.1,0.06,0.04,0.0,-0.03,-0.12,-0.22,-0.3,-0.44,-0.5,-0.62,-0.75,-0.88,-0.96,-1.06,-1.12,-1.2,-1.31,-1.38,-1.41,-1.44,-1.47,-1.5,-1.55,-1.6,-1.62,-1.66,-1.7,-1.68,-1.62,-1.55,-1.45,-1.3,-1.06,-0.83,-0.96,-0.80,-0.73,-0.64,-0.70,-0.64,-0.57,-0.48,-0.57,-0.57,-0.51,-0.41],
  [-1.22,-1.12,-1.08,-0.95,-0.86,-0.78,-0.68,-0.60,-0.54,-0.48,-0.43,-0.39,-0.38,-0.38,-0.36,-0.35,-0.32,-0.28,-0.3,-0.32,-0.35,-0.38,-0.4,-0.42,-0.44,-0.44,-0.44,-0.5,-0.64,-0.66,-0.67,-0.7,-0.77,-0.82,-0.89,-0.95,-1.0,-1.06,-1.15,-1.18,-1.25,-1.31,-1.38,-1.40,-1.41,-1.44,-1.47,-1.51,-1.57,-1.65],
];

const GREY = "#bebebe";
const BLACK = "#000000";
const FONT = "'Liberation Sans', Arial, Helvetica, sans-serif";

const fmtNum = (v: number) => (v < 0 ? "\u2212" + String(Math.abs(v)) : String(v));
const fmtX = (v: number) => {
  for (let i = 0; i < xTicks.length; i++) if (Math.abs(xTicks[i] - v) < 1e-9) return xTickLabels[i];
  return "";
};

function lineSeries(xs: number[], ys: number[], idx: number, color: string) {
  return {
    type: "line",
    xAxisIndex: idx,
    yAxisIndex: idx,
    data: ys.map((y, i) => [xs[i], y]),
    showSymbol: false,
    symbol: "none",
    silent: true,
    clip: true,
    lineStyle: { width: 2, color, cap: "round", join: "round" },
    itemStyle: { color },
    emphasis: { disabled: true },
  };
}

const GRID_TOP = 35;
const GRID_H = 603;
const GRID_W = 657;
const LEFT_X = [46, 742];

export default function App() {
  const ref = useRef<HTMLDivElement>(null);
  useEffect(() => {
    document.body.style.margin = "0";
    if (!ref.current) return;
    const chart = echarts.init(ref.current, undefined, { renderer: "svg" });

    const xAxisCfg = (gi: number) => ({
      gridIndex: gi,
      type: "value",
      position: "bottom",
      min: -0.0192,
      max: 1.0392,
      axisLine: { show: false, onZero: false },
      splitLine: { show: false },
      axisTick: { show: true, length: 7, customValues: xTicks, lineStyle: { color: BLACK, width: 1 } },
      axisLabel: { customValues: xTicks, formatter: fmtX, margin: 18, color: BLACK, fontSize: 14, fontFamily: FONT },
    });
    const yAxisCfg = (gi: number, min: number, max: number, ticks: number[]) => ({
      gridIndex: gi,
      type: "value",
      position: "left",
      min,
      max,
      axisLine: { show: false, onZero: false },
      splitLine: { show: false },
      axisTick: { show: true, length: 7, customValues: ticks, lineStyle: { color: BLACK, width: 1 } },
      axisLabel: { customValues: ticks, formatter: fmtNum, rotate: 90, margin: 15, color: BLACK, fontSize: 14, fontFamily: FONT },
    });

    const series: any[] = [];
    fourierGrey.forEach((ys) => series.push(lineSeries(timeCoarse, ys, 0, GREY)));
    fourierBlack.forEach((ys) => series.push(lineSeries(timeFine, ys, 0, BLACK)));
    bsplineGrey.forEach((ys) => series.push(lineSeries(timeCoarse, ys, 1, GREY)));
    bsplineBlack.forEach((ys) => series.push(lineSeries(timeFine, ys, 1, BLACK)));

    const textEl = (x: number, y: number, text: string, font: string) => ({
      type: "text",
      x,
      y,
      silent: true,
      style: {
        text,
        font,
        fill: BLACK,
        textAlign: "center",
        textVerticalAlign: "middle",
        align: "center",
        verticalAlign: "middle",
      },
    });

    const centers = LEFT_X.map((l) => l + GRID_W / 2);

    chart.setOption({
      animation: false,
      backgroundColor: "#ffffff",
      grid: LEFT_X.map((l) => ({
        left: l,
        top: GRID_TOP,
        width: GRID_W,
        height: GRID_H,
        show: true,
        borderColor: BLACK,
        borderWidth: 1,
        backgroundColor: "transparent",
        containLabel: false,
      })),
      xAxis: [xAxisCfg(0), xAxisCfg(1)],
      yAxis: [
        yAxisCfg(0, -32.42, 26.46, fourierYTicks),
        yAxisCfg(1, -5.13, 6.53, bsplineYTicks),
      ],
      series,
      graphic: [
        textEl(centers[0], 15, panelTitles[0], `bold 16px ${FONT}`),
        textEl(centers[1], 15, panelTitles[1], `bold 16px ${FONT}`),
        textEl(centers[0], 704, xAxisTitle, `14px ${FONT}`),
        textEl(centers[1], 704, xAxisTitle, `14px ${FONT}`),
      ],
    });
    return () => chart.dispose();
  }, []);
  return <div ref={ref} style={{ width: 1406, height: 717 }} />;
}
